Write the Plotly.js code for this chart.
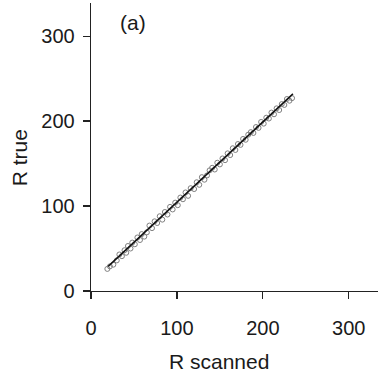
<!DOCTYPE html>
<html>
<head>
<meta charset="utf-8">
<script src="https://cdn.plot.ly/plotly-3.0.1.min.js"></script>
<style>html,body{margin:0;padding:0;background:#fff;}#chart{width:378px;height:374px;}</style>
</head>
<body>
<div id="chart"></div>
<script>
var rScanned = [19,22,26,30,33,36,39,41,43,46,48,51,54,57,59,62,65,68,71,74,77,80,83,86,89,92,95,98,101,104,107,110,113,116,120,123,126,129,132,135,138,141,144,147,150,153,156,159,162,165,168,171,174,177,180,183,186,189,192,195,198,201,204,207,210,213,216,219,222,225,228,231,234];
var rTrue = [26,29,31,36,43,41,48,45,53,50,57,55,63,60,67,64,69,77,74,82,80,88,84,93,90,99,96,104,101,110,108,116,112,121,120,128,125,134,131,136,142,145,143,151,149,156,154,162,160,168,166,173,172,179,178,184,187,186,193,192,199,197,204,203,210,208,215,213,220,219,226,224,227];
var fitX = [20, 235];
var fitY = [29, 232];
var tickVals = [0, 100, 200, 300];
var tickText = ["0", "100", "200", "300"];
var xLabel = "R scanned";
var yLabel = "R true";
var panelLabel = "(a)";

var font = {family: "Liberation Sans, Arial, sans-serif", size: 20, color: "#1a1a1a"};

var traces = [
  {x: rScanned, y: rTrue, type: "scatter", mode: "markers",
   marker: {symbol: "circle-open", size: 5, color: "#808080", line: {width: 1, color: "#808080"}},
   showlegend: false, hoverinfo: "none"},
  {x: fitX, y: fitY, type: "scatter", mode: "lines",
   line: {color: "#111", width: 1.5}, showlegend: false, hoverinfo: "none"}
];

var axisCommon = {
  tickvals: tickVals, ticktext: tickText, ticks: "outside", ticklen: 7, tickwidth: 1.2,
  tickcolor: "#222", showline: true, linecolor: "#222", linewidth: 1.3,
  showgrid: false, zeroline: false, tickfont: font
};

var layout = {
  width: 378, height: 374,
  margin: {l: 91, r: 0, t: 3, b: 83},
  paper_bgcolor: "#fff", plot_bgcolor: "#fff",
  font: font,
  xaxis: Object.assign({}, axisCommon, {range: [0, 334], ticklabelstandoff: 12}),
  yaxis: Object.assign({}, axisCommon, {range: [0, 339], ticklabelstandoff: 4}),
  annotations: [
    {text: xLabel, xref: "paper", yref: "paper", x: (219 - 91) / 287, y: -0.245, xanchor: "center", yanchor: "middle", showarrow: false, font: Object.assign({}, font, {size: 21})},
    {text: yLabel, xref: "paper", yref: "paper", x: -0.25, y: (291 - 158) / 288, xanchor: "center", yanchor: "middle", textangle: -90, showarrow: false, font: Object.assign({}, font, {size: 21})},
    {text: panelLabel, xref: "paper", yref: "paper", x: (133 - 91) / 287, y: (291 - 23) / 288, xanchor: "center", yanchor: "middle", showarrow: false, font: Object.assign({}, font, {size: 21})}
  ]
};

Plotly.newPlot("chart", traces, layout, {staticPlot: true, displayModeBar: false});
</script>
</body>
</html>
